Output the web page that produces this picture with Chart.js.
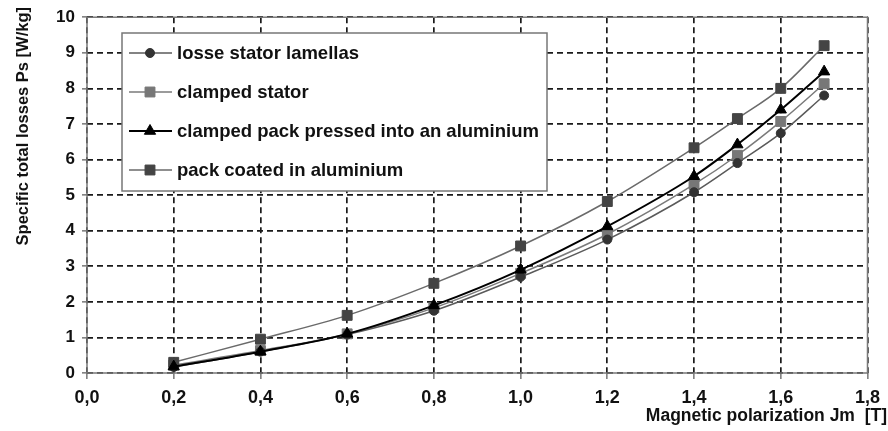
<!DOCTYPE html>
<html><head><meta charset="utf-8">
<script src="https://cdn.jsdelivr.net/npm/chart.js@4.4.1/dist/chart.umd.min.js"></script>
<style>html,body{margin:0;padding:0;background:#fff;overflow:hidden;}#wrap{width:888px;height:431px;}</style>
</head><body><div id="wrap"><canvas id="c" width="888" height="431"></canvas></div>
<script>
const polarization = [0.2, 0.4, 0.6, 0.8, 1.0, 1.2, 1.4, 1.5, 1.6, 1.7];
const losseStatorLamellas = [0.17, 0.60, 1.08, 1.75, 2.70, 3.75, 5.08, 5.90, 6.74, 7.80];
const clampedStator = [0.22, 0.63, 1.10, 1.83, 2.80, 3.90, 5.30, 6.12, 7.07, 8.13];
const clampedPackPressed = [0.18, 0.60, 1.10, 1.90, 2.90, 4.12, 5.53, 6.42, 7.40, 8.47];
const packCoated = [0.30, 0.95, 1.62, 2.52, 3.57, 4.82, 6.33, 7.15, 8.00, 9.20];
const seriesNames = ['losse stator lamellas', 'clamped stator', 'clamped pack pressed into an aluminium', 'pack coated in aluminium'];
const xTickValues = [0.0, 0.2, 0.4, 0.6, 0.8, 1.0, 1.2, 1.4, 1.6, 1.8];
const xTickLabels = ['0,0', '0,2', '0,4', '0,6', '0,8', '1,0', '1,2', '1,4', '1,6', '1,8'];
const yTickValues = [0, 1, 2, 3, 4, 5, 6, 7, 8, 9, 10];
const xTitle = 'Magnetic polarization Jm  [T]';
const yTitle = 'Specific total losses Ps [W/kg]';

const FONT = '"Liberation Sans", Arial, sans-serif';
const pts = arr => arr.map((v, i) => ({x: polarization[i], y: v}));

const styles = [
  {line: '#5a5a5a', fill: '#333', style: 'circle', r: 4.5, w: 1.5, order: 2},
  {line: '#7a7a7a', fill: '#777', style: 'rect', r: 7, w: 1.5, order: 3},
  {line: '#000', fill: '#000', style: 'triangle', r: 6.5, w: 2, order: 0},
  {line: '#6a6a6a', fill: '#444', style: 'rect', r: 7, w: 1.5, order: 1}
];
const seriesData = [losseStatorLamellas, clampedStator, clampedPackPressed, packCoated];

const datasets = seriesData.map((d, i) => ({
  label: seriesNames[i],
  data: pts(d),
  borderColor: styles[i].line,
  borderWidth: styles[i].w,
  backgroundColor: styles[i].fill,
  pointBackgroundColor: styles[i].fill,
  pointBorderColor: styles[i].fill,
  pointBorderWidth: 1,
  pointStyle: styles[i].style,
  pointRadius: styles[i].r,
  cubicInterpolationMode: 'monotone',
  order: styles[i].order
}));

const boxPlugin = {
  id: 'box',
  afterLayout(chart) {
    // shift title anchors only (pixel mapping already configured)
    chart.scales.x.right = 887;
    chart.scales.y.top = 7;
  },
  beforeDatasetsDraw(chart) {
    const {ctx, chartArea: a} = chart;
    ctx.save();
    ctx.strokeStyle = '#777';
    ctx.lineWidth = 1.5;
    ctx.strokeRect(a.left, a.top, a.right - a.left, a.bottom - a.top);
    ctx.restore();
  },
  afterDraw(chart) {
    const {ctx} = chart;
    const bx = 122, by = 33, bw = 425, bh = 158;
    ctx.save();
    ctx.fillStyle = '#fff';
    ctx.fillRect(bx, by, bw, bh);
    ctx.strokeStyle = '#777';
    ctx.lineWidth = 1.5;
    ctx.strokeRect(bx, by, bw, bh);
    chart.data.datasets.forEach((ds, i) => {
      const y = 53 + i * 39;
      ctx.strokeStyle = ds.borderColor;
      ctx.lineWidth = ds.borderWidth;
      ctx.beginPath();
      ctx.moveTo(129, y);
      ctx.lineTo(172, y);
      ctx.stroke();
      ctx.fillStyle = ds.pointBackgroundColor;
      ctx.strokeStyle = ds.pointBorderColor;
      ctx.lineWidth = 1;
      Chart.helpers.drawPoint(ctx, {pointStyle: ds.pointStyle, radius: ds.pointRadius, borderWidth: 1, rotation: 0}, 150, y);
      ctx.fillStyle = '#111';
      ctx.font = 'bold 18.5px ' + FONT;
      ctx.textBaseline = 'middle';
      ctx.textAlign = 'left';
      ctx.fillText(ds.label, 177, y + 1);
    });
    ctx.restore();
  }
};

new Chart(document.getElementById('c'), {
  type: 'line',
  data: {datasets},
  options: {
    responsive: false,
    animation: false,
    devicePixelRatio: 1,
    layout: {padding: {top: 16, right: 18, left: 0, bottom: 0}},
    plugins: {legend: {display: false}, tooltip: {enabled: false}},
    scales: {
      x: {
        type: 'linear', min: 0, max: 1.8,
        afterBuildTicks: s => { s.ticks = xTickValues.map(v => ({value: v})); },
        afterFit: s => { s.height = 58; },
        ticks: {
          callback: (v, i) => xTickLabels[i],
          font: {family: FONT, size: 18, weight: 'bold'},
          color: '#111', padding: 8, maxRotation: 0, autoSkip: false
        },
        grid: {color: '#1a1a1a', lineWidth: 1.7, tickLength: 6, tickColor: '#777', tickWidth: 1.5, tickBorderDash: []},
        border: {display: false, color: '#777', width: 1.5, dash: [6, 4]},
        title: {display: true, text: xTitle, align: 'end', color: '#111',
                font: {family: FONT, size: 17.5, weight: 'bold'}, padding: {top: 0, bottom: 4}}
      },
      y: {
        type: 'linear', min: 0, max: 10,
        afterBuildTicks: s => { s.ticks = yTickValues.map(v => ({value: v})); },
        afterFit: s => { s.width = 87; },
        ticks: {
          font: {family: FONT, size: 17, weight: 'bold'},
          color: '#111', padding: 7
        },
        grid: {color: '#1a1a1a', lineWidth: 1.7, tickLength: 5, tickColor: '#777', tickWidth: 1.5, tickBorderDash: []},
        border: {display: false, color: '#777', width: 1.5, dash: [6, 4]},
        title: {display: true, text: yTitle, align: 'end', color: '#111',
                font: {family: FONT, size: 16.5, weight: 'bold'}, padding: {top: 14, bottom: 0}}
      }
    }
  },
  plugins: [boxPlugin]
});
</script></body></html>
